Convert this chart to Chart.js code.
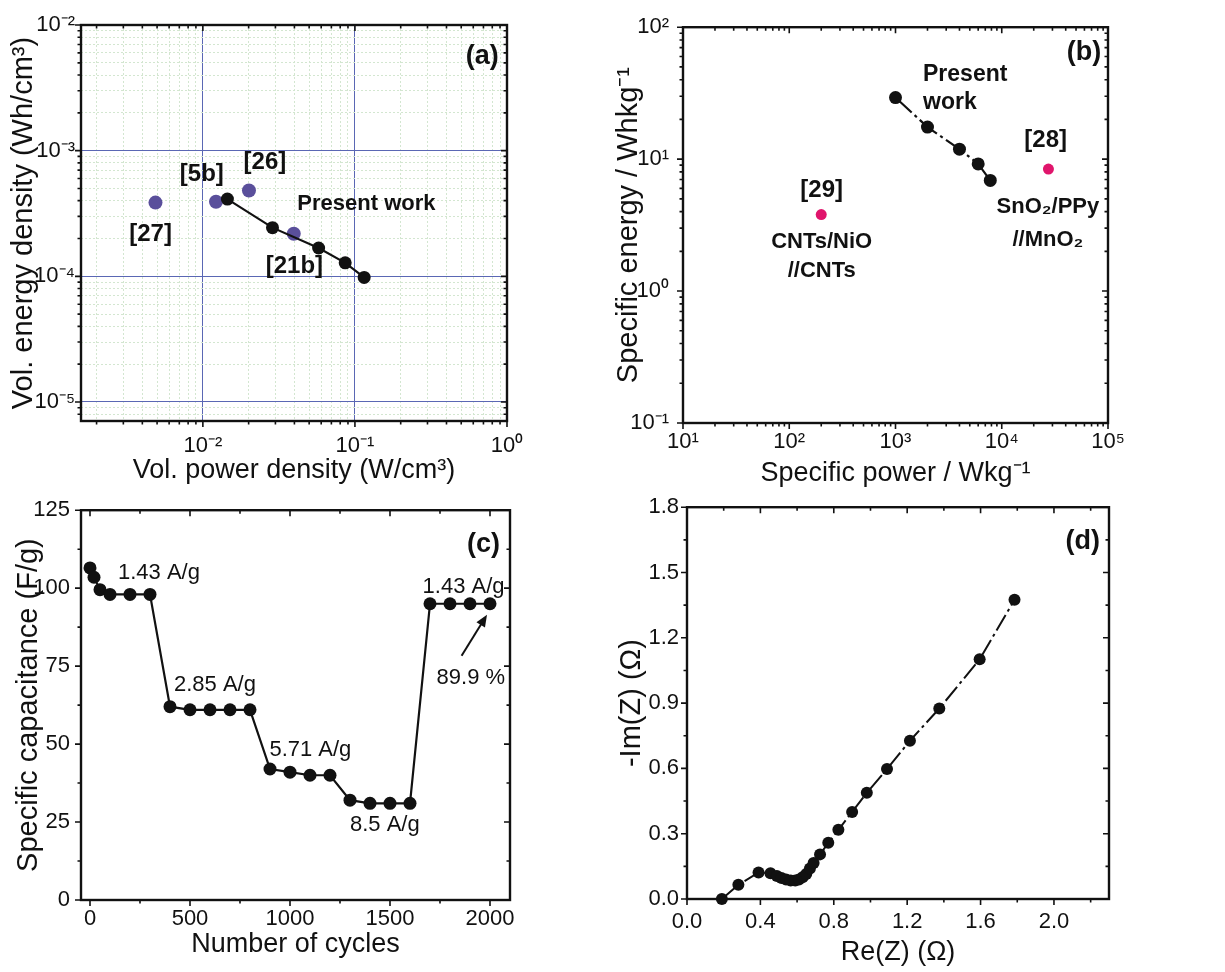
<!DOCTYPE html>
<html>
<head>
<meta charset="utf-8">
<title>Supercapacitor performance</title>
<script src="https://cdn.jsdelivr.net/npm/chart.js@4.4.2/dist/chart.umd.min.js"></script>
<style>
  body { margin: 0; background: #fff; }
  #fig { position: relative; width: 1225px; height: 972px; }
  #fig canvas { position: absolute; }
</style>
</head>
<body>
<div id="fig">
  <canvas id="chartA" width="612" height="490" style="left:0;top:0"></canvas>
  <canvas id="chartB" width="613" height="490" style="left:612px;top:0"></canvas>
  <canvas id="chartC" width="612" height="486" style="left:0;top:486px"></canvas>
  <canvas id="chartD" width="613" height="486" style="left:612px;top:486px"></canvas>
</div>
<script>
// (a) volumetric Ragone plot
const volPowerPresent = [0.0145, 0.0287, 0.0577, 0.0863, 0.115];
const volEnergyPresent = [4.12e-4, 2.44e-4, 1.68e-4, 1.28e-4, 9.8e-5];
const volRefNames = ['[27]', '[5b]', '[26]', '[21b]'];
const volPowerRefs = [4.88e-3, 0.0122, 0.0201, 0.0396];
const volEnergyRefs = [3.86e-4, 3.92e-4, 4.82e-4, 2.18e-4];
const aXDecades = [1e-2, 1e-1, 1];
const aXLabels = ['10⁻²', '10⁻¹', '10⁰'];
const aYDecades = [1e-5, 1e-4, 1e-3, 1e-2];
const aYLabels = ['10⁻⁵', '10⁻⁴', '10⁻³', '10⁻²'];

// (b) gravimetric Ragone plot
const specPowerPresent = [1000, 2000, 4000, 6000, 7800];
const specEnergyPresent = [29.3, 17.5, 11.9, 9.2, 6.9];
const specRefNames = ['[29]', '[28]'];
const specPowerRefs = [200, 27500];
const specEnergyRefs = [3.8, 8.4];
const bXDecades = [1e1, 1e2, 1e3, 1e4, 1e5];
const bXLabels = ['10¹', '10²', '10³', '10⁴', '10⁵'];
const bYDecades = [0.1, 1, 10, 100];
const bYLabels = ['10⁻¹', '10⁰', '10¹', '10²'];

// (c) rate capability
const cycles = [0, 20, 50, 100, 200, 300, 400, 500, 600, 700, 800, 900, 1000, 1100, 1200, 1300, 1400, 1500, 1600, 1700, 1800, 1900, 2000];
const capacitance = [106.5, 103.5, 99.5, 98, 98, 98, 62, 61, 61, 61, 61, 42, 41, 40, 40, 32, 31, 31, 31, 95, 95, 95, 95];
const cXTicks = [0, 500, 1000, 1500, 2000];
const cXLabels = ['0', '500', '1000', '1500', '2000'];
const cYTicks = [0, 25, 50, 75, 100, 125];
const cYLabels = ['0', '25', '50', '75', '100', '125'];

// (d) Nyquist plot
const reZ = [0.19, 0.28, 0.39, 0.455, 0.49, 0.515, 0.54, 0.565, 0.59, 0.61, 0.63, 0.65, 0.67, 0.69, 0.725, 0.77, 0.825, 0.90, 0.98, 1.09, 1.215, 1.375, 1.595, 1.785];
const imZ = [0.0, 0.065, 0.122, 0.118, 0.106, 0.097, 0.09, 0.085, 0.085, 0.09, 0.1, 0.115, 0.14, 0.165, 0.205, 0.258, 0.318, 0.40, 0.488, 0.597, 0.727, 0.875, 1.101, 1.375];
const dXTicks = [0, 0.4, 0.8, 1.2, 1.6, 2.0];
const dXLabels = ['0.0', '0.4', '0.8', '1.2', '1.6', '2.0'];
const dYTicks = [0, 0.3, 0.6, 0.9, 1.2, 1.5, 1.8];
const dYLabels = ['0.0', '0.3', '0.6', '0.9', '1.2', '1.5', '1.8'];

const FONT = "'Liberation Sans', Arial, sans-serif";
const INK = '#111';
Chart.defaults.font.family = FONT;
Chart.defaults.color = INK;
Chart.defaults.animation = false;

const bold = (size) => `bold ${size}px ${FONT}`;
const regular = (size) => `${size}px ${FONT}`;
const pts = (xs, ys) => xs.map((x, i) => ({ x, y: ys[i] }));
const same = (a, b) => Math.abs(a - b) <= Math.abs(b) * 1e-6 + 1e-12;

function logTicks(min, max) {
  const out = [];
  for (let e = Math.floor(Math.log10(min)); e <= Math.ceil(Math.log10(max)); e++) {
    for (let m = 1; m <= 9; m++) {
      const v = Number((m * Math.pow(10, e)).toPrecision(6));
      if (v >= min * 0.999 && v <= max * 1.001) out.push({ value: v, major: m === 1 });
    }
  }
  return out;
}

function linTicks(majors, minorStep, max) {
  const out = [];
  for (let k = 0; ; k++) {
    const v = Number((majors[0] + k * minorStep).toFixed(6));
    if (v > max + 1e-9) break;
    out.push({ value: v, major: majors.some(m => same(v, m)) });
  }
  return out;
}

// builds one axis with a fixed box size so the plot areas line up with the figure
function axis(o) {
  return {
    type: o.type,
    min: o.min,
    max: o.max,
    afterBuildTicks: (s) => { s.ticks = o.ticks.map(t => ({ ...t })); },
    afterFit: (s) => {
      if (s.isHorizontal()) s.height = o.size;
      else s.width = o.size;
    },
    grid: {
      display: !!o.grid,
      drawTicks: false,
      color: (ctx) => (ctx.tick && ctx.tick.major ? '#5a67b4' : '#d3e6d0'),
      lineWidth: 1
    },
    border: {
      display: false,
      dash: (ctx) => (ctx.tick && !ctx.tick.major ? [2, 2] : [])
    },
    ticks: {
      autoSkip: false,
      maxRotation: 0,
      padding: o.pad,
      color: INK,
      font: { size: 22 },
      callback: (value) => {
        const i = o.majors.findIndex(m => same(value, m));
        return i >= 0 ? o.labels[i] : '';
      }
    },
    title: {
      display: true,
      text: o.title,
      color: INK,
      font: { size: o.titleSize },
      padding: o.titlePad
    }
  };
}

// axis box with tick marks: outward on left/bottom, inward on top/right
const framePlugin = {
  id: 'frame',
  beforeDatasetsDraw(chart) {
    const { ctx, chartArea: { left, right, top, bottom }, scales: { x, y } } = chart;
    ctx.save();
    ctx.strokeStyle = INK;
    ctx.lineWidth = 1.6;
    ctx.beginPath();
    x.ticks.forEach(t => {
      const p = x.getPixelForValue(t.value);
      const len = t.major ? 6 : 3.5;
      ctx.moveTo(p, bottom); ctx.lineTo(p, bottom + len);
      ctx.moveTo(p, top); ctx.lineTo(p, top + len);
    });
    y.ticks.forEach(t => {
      const p = y.getPixelForValue(t.value);
      const len = t.major ? 6 : 3.5;
      ctx.moveTo(left, p); ctx.lineTo(left - len, p);
      ctx.moveTo(right, p); ctx.lineTo(right - len, p);
    });
    ctx.stroke();
    ctx.lineWidth = 2.4;
    ctx.strokeRect(left, top, right - left, bottom - top);
    ctx.restore();
  }
};

// text labels and arrows placed in data coordinates
const notesPlugin = {
  id: 'notes',
  afterDatasetsDraw(chart, args, opts) {
    const { ctx, scales: { x, y } } = chart;
    ctx.save();
    ctx.fillStyle = INK;
    ctx.strokeStyle = INK;
    ctx.textBaseline = 'middle';
    (opts.items || []).forEach(n => {
      ctx.font = n.font;
      ctx.textAlign = n.align || 'center';
      ctx.fillText(n.text, x.getPixelForValue(n.x), y.getPixelForValue(n.y));
    });
    (opts.arrows || []).forEach(a => {
      const x0 = x.getPixelForValue(a.from[0]), y0 = y.getPixelForValue(a.from[1]);
      const x1 = x.getPixelForValue(a.to[0]), y1 = y.getPixelForValue(a.to[1]);
      const ang = Math.atan2(y1 - y0, x1 - x0);
      ctx.lineWidth = 2;
      ctx.beginPath();
      ctx.moveTo(x0, y0);
      ctx.lineTo(x1 - 8 * Math.cos(ang), y1 - 8 * Math.sin(ang));
      ctx.stroke();
      ctx.beginPath();
      ctx.moveTo(x1, y1);
      ctx.lineTo(x1 - 12 * Math.cos(ang) + 5 * Math.sin(ang), y1 - 12 * Math.sin(ang) - 5 * Math.cos(ang));
      ctx.lineTo(x1 - 12 * Math.cos(ang) - 5 * Math.sin(ang), y1 - 12 * Math.sin(ang) + 5 * Math.cos(ang));
      ctx.closePath();
      ctx.fill();
    });
    ctx.restore();
  }
};

function baseOptions(padding, scales, notes) {
  return {
    responsive: false,
    animation: false,
    layout: { padding },
    scales,
    plugins: {
      legend: { display: false },
      tooltip: { enabled: false },
      notes
    }
  };
}

// (a)
new Chart(document.getElementById('chartA'), {
  type: 'scatter',
  data: {
    datasets: [
      {
        data: pts(volPowerPresent, volEnergyPresent),
        showLine: true, borderColor: INK, borderWidth: 2.2,
        pointBackgroundColor: INK, pointBorderWidth: 0, pointRadius: 6.5, clip: false
      },
      {
        data: pts(volPowerRefs, volEnergyRefs),
        pointBackgroundColor: '#5a4f9b', pointBorderWidth: 0, pointRadius: 7, clip: false
      }
    ]
  },
  options: baseOptions({ left: 0, right: 105, top: 25, bottom: 0 }, {
    x: axis({
      type: 'logarithmic', min: 1.58e-3, max: 1, ticks: logTicks(1.58e-3, 1),
      majors: aXDecades, labels: aXLabels, size: 69, pad: 12, grid: true,
      title: 'Vol. power density (W/cm³)', titleSize: 27, titlePad: { top: 0, bottom: 3 }
    }),
    y: axis({
      type: 'logarithmic', min: 7.06e-6, max: 1e-2, ticks: logTicks(7.06e-6, 1e-2),
      majors: aYDecades, labels: aYLabels, size: 81, pad: 6, grid: true,
      title: 'Vol. energy density (Wh/cm³)', titleSize: 29, titlePad: { top: 7, bottom: 0 }
    })
  }, {
    items: [
      { text: volRefNames[0], x: 4.53e-3, y: 2.14e-4, font: bold(24) },
      { text: volRefNames[1], x: 9.85e-3, y: 6.44e-4, font: bold(24) },
      { text: volRefNames[2], x: 0.0256, y: 8.02e-4, font: bold(24) },
      { text: volRefNames[3], x: 0.040, y: 1.19e-4, font: bold(24) },
      { text: 'Present work', x: 0.119, y: 3.78e-4, font: bold(22) },
      { text: '(a)', x: 0.881, y: 5.61e-3, font: bold(27), align: 'right' }
    ]
  }),
  plugins: [framePlugin, notesPlugin]
});

// (b)
new Chart(document.getElementById('chartB'), {
  type: 'scatter',
  data: {
    datasets: [
      {
        data: pts(specPowerPresent, specEnergyPresent),
        showLine: true, borderColor: INK, borderWidth: 2.2, borderDash: [22, 4, 3, 4],
        pointBackgroundColor: INK, pointBorderWidth: 0, pointRadius: 6.5, clip: false
      },
      {
        data: pts(specPowerRefs, specEnergyRefs),
        pointBackgroundColor: '#e0156c', pointBorderWidth: 0, pointRadius: 5.5, clip: false
      }
    ]
  },
  options: baseOptions({ left: 0, right: 117, top: 24, bottom: 0 }, {
    x: axis({
      type: 'logarithmic', min: 10, max: 1e5, ticks: logTicks(10, 1e5),
      majors: bXDecades, labels: bXLabels, size: 67, pad: 6,
      title: 'Specific power / Wkg⁻¹', titleSize: 27, titlePad: { top: 0, bottom: 0 }
    }),
    y: axis({
      type: 'logarithmic', min: 0.1, max: 100, ticks: logTicks(0.1, 100),
      majors: bYDecades, labels: bYLabels, size: 71, pad: 14,
      title: 'Specific energy / Whkg⁻¹', titleSize: 29, titlePad: { top: 0, bottom: 0 }
    })
  }, {
    items: [
      { text: '(b)', x: 86500, y: 63.7, font: bold(27), align: 'right' },
      { text: 'Present', x: 1815, y: 43.7, font: bold(23), align: 'left' },
      { text: 'work', x: 1815, y: 26.8, font: bold(23), align: 'left' },
      { text: specRefNames[1], x: 25900, y: 13.8, font: bold(24) },
      { text: 'SnO₂/PPy', x: 27200, y: 4.35, font: bold(22) },
      { text: '//MnO₂', x: 27200, y: 2.44, font: bold(22) },
      { text: specRefNames[0], x: 202, y: 5.79, font: bold(24) },
      { text: 'CNTs/NiO', x: 202, y: 2.35, font: bold(22) },
      { text: '//CNTs', x: 202, y: 1.43, font: bold(22) }
    ]
  }),
  plugins: [framePlugin, notesPlugin]
});

// (c)
new Chart(document.getElementById('chartC'), {
  type: 'scatter',
  data: {
    datasets: [{
      data: pts(cycles, capacitance),
      showLine: true, borderColor: INK, borderWidth: 2.2,
      pointBackgroundColor: INK, pointBorderWidth: 0, pointRadius: 6.5, clip: false
    }]
  },
  options: baseOptions({ left: 0, right: 102, top: 16, bottom: 0 }, {
    x: axis({
      type: 'linear', min: -45, max: 2100, ticks: linTicks(cXTicks, 250, 2100),
      majors: cXTicks, labels: cXLabels, size: 72, pad: 6,
      title: 'Number of cycles', titleSize: 27, titlePad: { top: 0, bottom: 11 }
    }),
    y: axis({
      type: 'linear', min: 0, max: 125, ticks: linTicks(cYTicks, 12.5, 125),
      majors: cYTicks, labels: cYLabels, size: 81, pad: 11,
      title: 'Specific capacitance (F/g)', titleSize: 29, titlePad: { top: 12, bottom: 0 }
    })
  }, {
    items: [
      { text: '1.43 A/g', x: 140, y: 105, font: regular(22), align: 'left' },
      { text: '2.85 A/g', x: 420, y: 69, font: regular(22), align: 'left' },
      { text: '5.71 A/g', x: 897, y: 48, font: regular(22), align: 'left' },
      { text: '8.5 A/g', x: 1300, y: 24, font: regular(22), align: 'left' },
      { text: '1.43 A/g', x: 1663, y: 100.5, font: regular(22), align: 'left' },
      { text: '89.9 %', x: 1733, y: 71.3, font: regular(22), align: 'left' },
      { text: '(c)', x: 2050, y: 114, font: bold(27), align: 'right' }
    ],
    arrows: [{ from: [1858, 78.3], to: [1985, 91.5] }]
  }),
  plugins: [framePlugin, notesPlugin]
});

// (d)
new Chart(document.getElementById('chartD'), {
  type: 'scatter',
  data: {
    datasets: [{
      data: pts(reZ, imZ),
      showLine: true, borderColor: INK, borderWidth: 2, borderDash: [18, 4, 3, 4],
      pointBackgroundColor: INK, pointBorderWidth: 0, pointRadius: 6, clip: false
    }]
  },
  options: baseOptions({ left: 0, right: 116, top: 16, bottom: 0 }, {
    x: axis({
      type: 'linear', min: 0, max: 2.3, ticks: linTicks(dXTicks, 0.2, 2.3),
      majors: dXTicks, labels: dXLabels, size: 73, pad: 10,
      title: 'Re(Z) (Ω)', titleSize: 27, titlePad: { top: 0, bottom: 3 }
    }),
    y: axis({
      type: 'linear', min: 0, max: 1.8, ticks: linTicks(dYTicks, 0.15, 1.8),
      majors: dYTicks, labels: dYLabels, size: 75, pad: 8,
      title: '-Im(Z) (Ω)', titleSize: 29, titlePad: { top: 3, bottom: 0 }
    })
  }, {
    items: [
      { text: '(d)', x: 2.251, y: 1.644, font: bold(27), align: 'right' }
    ]
  }),
  plugins: [framePlugin, notesPlugin]
});
</script>
</body>
</html>
